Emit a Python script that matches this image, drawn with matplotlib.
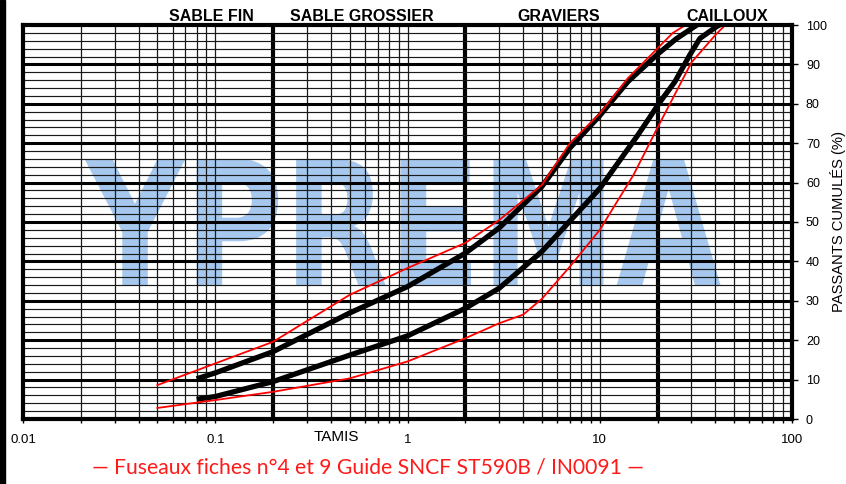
import matplotlib
matplotlib.use("Agg")
import matplotlib.pyplot as plt
import numpy as np
from matplotlib.textpath import TextPath
from matplotlib.font_manager import FontProperties
from matplotlib.patches import PathPatch, Rectangle
from matplotlib.transforms import Affine2D

# sieve sizes (mm) and cumulative passing (%)
upper_d = [0.08, 0.1, 0.2, 0.5, 1, 2, 3, 5, 7, 10, 14, 20, 25, 32]
upper_p = [10.2, 11.7, 17.1, 26.9, 33.6, 42.1, 48.5, 59.0, 68.8, 77.0, 85.6, 92.6, 96.5, 100]

lower_d = [0.08, 0.1, 0.2, 0.5, 1, 2, 3, 5, 10, 15.8, 20.6, 24.6, 29.4, 33.2, 40.5, 42]
lower_p = [5.0, 5.7, 9.5, 16.2, 21.1, 28.1, 33.2, 42.5, 58.5, 72.1, 80.5, 85.6, 92.4, 96.6, 99.6, 100]

red_up_d = [0.05, 0.1, 0.2, 0.5, 1, 2, 3, 5, 7, 10, 14, 20, 24, 28, 40]
red_up_p = [8.6, 14.1, 19.6, 31.5, 38.3, 44.7, 50.5, 59.4, 70.0, 77.5, 86.5, 94.1, 98.0, 100, 100]

red_low_d = [0.05, 0.1, 0.2, 0.5, 1, 2, 3, 4, 5, 7, 10, 15, 20, 30, 40, 45, 50]
red_low_p = [2.8, 4.8, 6.9, 10.3, 14.6, 20.5, 24.3, 26.5, 30.5, 38.7, 48.0, 62.0, 74.0, 90.5, 97.5, 100, 100]

zones = ["SABLE FIN", "SABLE GROSSIER", "GRAVIERS", "CAILLOUX"]
zone_x = [0.096, 0.58, 6.1, 46.0]
x_ticks = [0.01, 0.1, 1, 10, 100]
x_labels = ["0.01", "0.1", "1", "10", "100"]
y_ticks = list(range(0, 101, 10))
thick_x = [0.2, 2, 20]

plt.rcParams['font.family'] = ['Liberation Sans', 'DejaVu Sans']

fig = plt.figure(figsize=(8.46, 4.84), dpi=100)
fig.patches.append(Rectangle((0, 0), 5 / 846, 1, transform=fig.transFigure,
                             color='black', zorder=10))
ax = fig.add_axes([23 / 846, 65 / 484, 769 / 846, 394 / 484])
ax.set_xscale('log')
ax.set_xlim(0.01, 100)
ax.set_ylim(0, 100)

# grid lines
for dec in [0.01, 0.1, 1, 10]:
    for m in range(1, 10):
        v = dec * m
        if v <= 0.01 * 1.001 or v >= 100 * 0.999:
            continue
        if any(np.isclose(v, t) for t in thick_x):
            ax.axvline(v, color='black', lw=3.0, zorder=1)
        else:
            ax.axvline(v, color='#1a1a1a', lw=0.9, zorder=1)
for p in range(2, 100, 2):
    if p % 10 == 0:
        ax.axhline(p, color='black', lw=2.2, zorder=1)
    else:
        ax.axhline(p, color='#1a1a1a', lw=0.85, zorder=1)

# watermark
fp = FontProperties(family='DejaVu Sans', weight='bold')
tp = TextPath((0, 0), "YPREMA", size=1, prop=fp)
ext = tp.get_extents()
x0, x1 = 0.080, 0.907
y0, y1 = 0.340, 0.660
tr = Affine2D().translate(-ext.x0, -ext.y0).scale((x1 - x0) / ext.width,
                                                   (y1 - y0) / ext.height).translate(x0, y0)
wm = PathPatch(tr.transform_path(tp), transform=ax.transAxes,
               facecolor='#a6c8ee', edgecolor='none', zorder=0.5)
ax.add_patch(wm)

# curves
ax.plot(red_up_d, red_up_p, color='#ff0000', lw=1.3, zorder=4)
ax.plot(red_low_d, red_low_p, color='#ff0000', lw=1.3, zorder=4)
ax.plot(upper_d, upper_p, color='black', lw=3.8, zorder=3, solid_capstyle='butt')
ax.plot(lower_d, lower_p, color='black', lw=3.8, zorder=3, solid_capstyle='butt')

for s in ax.spines.values():
    s.set_linewidth(3)
    s.set_zorder(5)

ax.yaxis.tick_right()
ax.yaxis.set_label_position('right')
ax.set_yticks(y_ticks)
ax.tick_params(axis='y', which='both', length=4, width=1, labelsize=9, pad=6)
ax.set_ylabel("PASSANTS CUMULÉS (%)", fontsize=10.6, labelpad=2)

ax.set_xticks(x_ticks)
ax.set_xticklabels(x_labels)
ax.tick_params(axis='x', which='major', length=3, width=1, labelsize=9.5, pad=8)
ax.tick_params(axis='x', which='minor', length=3, width=1, labelbottom=False)

for name, xv in zip(zones, zone_x):
    ax.text(xv, 100.2, name, ha='center', va='bottom', fontsize=11.5,
            fontweight='bold', zorder=6)

fig.text(336 / 846, 1 - 437 / 484, "TAMIS", ha='center', va='center', fontsize=11)
fig.text(368 / 846, 1 - 468 / 484,
         "— Fuseaux fiches n°4 et 9 Guide SNCF ST590B / IN0091 —",
         ha='center', va='center', fontsize=15.2, color='#ff1a1a',
         family=['Lato', 'DejaVu Sans'])

fig.savefig("out.png", dpi=100)
